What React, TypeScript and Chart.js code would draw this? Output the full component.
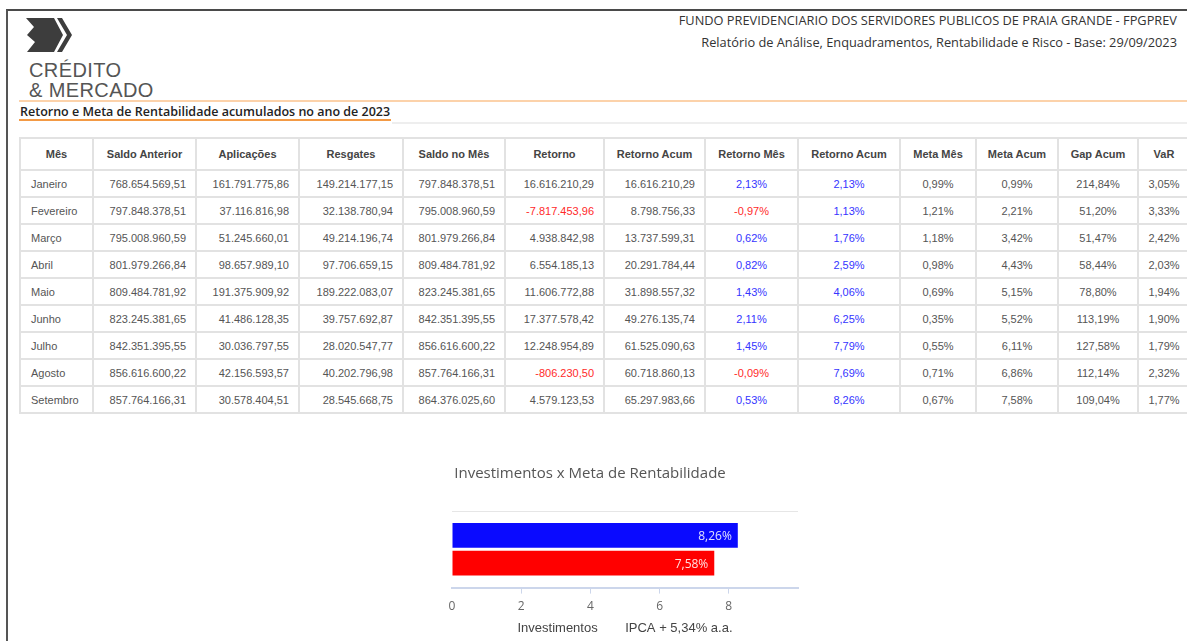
import React, { useEffect, useRef } from 'react';
import { Chart, registerables } from 'chart.js';

Chart.register(...registerables);

// ---------- table data ----------
const headers = ['Mês', 'Saldo Anterior', 'Aplicações', 'Resgates', 'Saldo no Mês', 'Retorno', 'Retorno Acum', 'Retorno Mês', 'Retorno Acum', 'Meta Mês', 'Meta Acum', 'Gap Acum', 'VaR'];
const months = ['Janeiro', 'Fevereiro', 'Março', 'Abril', 'Maio', 'Junho', 'Julho', 'Agosto', 'Setembro'];
const saldoAnterior = [768654569.51, 797848378.51, 795008960.59, 801979266.84, 809484781.92, 823245381.65, 842351395.55, 856616600.22, 857764166.31];
const aplicacoes = [161791775.86, 37116816.98, 51245660.01, 98657989.10, 191375909.92, 41486128.35, 30036797.55, 42156593.57, 30578404.51];
const resgates = [149214177.15, 32138780.94, 49214196.74, 97706659.15, 189222083.07, 39757692.87, 28020547.77, 40202796.98, 28545668.75];
const saldoMes = [797848378.51, 795008960.59, 801979266.84, 809484781.92, 823245381.65, 842351395.55, 856616600.22, 857764166.31, 864376025.60];
const retorno = [16616210.29, -7817453.96, 4938842.98, 6554185.13, 11606772.88, 17377578.42, 12248954.89, -806230.50, 4579123.53];
const retornoAcum = [16616210.29, 8798756.33, 13737599.31, 20291784.44, 31898557.32, 49276135.74, 61525090.63, 60718860.13, 65297983.66];
const retornoMesPct = [2.13, -0.97, 0.62, 0.82, 1.43, 2.11, 1.45, -0.09, 0.53];
const retornoAcumPct = [2.13, 1.13, 1.76, 2.59, 4.06, 6.25, 7.79, 7.69, 8.26];
const metaMes = [0.99, 1.21, 1.18, 0.98, 0.69, 0.35, 0.55, 0.71, 0.67];
const metaAcum = [0.99, 2.21, 3.42, 4.43, 5.15, 5.52, 6.11, 6.86, 7.58];
const gapAcum = [214.84, 51.20, 51.47, 58.44, 78.80, 113.19, 127.58, 112.14, 109.04];
const varPct = [3.05, 3.33, 2.42, 2.03, 1.94, 1.90, 1.79, 2.32, 1.77];

// ---------- chart data ----------
const chartTitle = 'Investimentos x Meta de Rentabilidade';
const categories = ['Acumulado 2023'];
const seriesNames = ['Investimentos', 'IPCA + 5,34% a.a.'];
const investimentosValues = [8.26];
const metaValues = [7.58];
const xTicksMax = 10;
const xTickStep = 2;

// ---------- layout constants ----------
const colWidths = [73, 103, 103, 104, 102, 99, 101, 93, 102, 76, 82, 80, 52];
const BLUE = '#3535ff';
const RED = '#ff2a2a';
const GRAY_TEXT = '#555';
const GRID = '#e2e2e2';

function fmt(n: number): string {
  const neg = n < 0;
  const [i, d] = Math.abs(n).toFixed(2).split('.');
  const withDots = i.replace(/\B(?=(\d{3})+(?!\d))/g, '.');
  return (neg ? '-' : '') + withDots + ',' + d;
}
const pct = (n: number) => fmt(n) + '%';

type Cell = { text: string; align: 'left' | 'right' | 'center'; color: string };

function buildRows(): Cell[][] {
  return months.map((m, r) => [
    { text: m, align: 'left', color: GRAY_TEXT },
    { text: fmt(saldoAnterior[r]), align: 'right', color: GRAY_TEXT },
    { text: fmt(aplicacoes[r]), align: 'right', color: GRAY_TEXT },
    { text: fmt(resgates[r]), align: 'right', color: GRAY_TEXT },
    { text: fmt(saldoMes[r]), align: 'right', color: GRAY_TEXT },
    { text: fmt(retorno[r]), align: 'right', color: retorno[r] < 0 ? RED : GRAY_TEXT },
    { text: fmt(retornoAcum[r]), align: 'right', color: GRAY_TEXT },
    { text: pct(retornoMesPct[r]), align: 'center', color: retornoMesPct[r] < 0 ? RED : BLUE },
    { text: pct(retornoAcumPct[r]), align: 'center', color: retornoAcumPct[r] < 0 ? RED : BLUE },
    { text: pct(metaMes[r]), align: 'center', color: GRAY_TEXT },
    { text: pct(metaAcum[r]), align: 'center', color: GRAY_TEXT },
    { text: pct(gapAcum[r]), align: 'center', color: GRAY_TEXT },
    { text: pct(varPct[r]), align: 'center', color: GRAY_TEXT },
  ] as Cell[]);
}

function DataTable() {
  const rows = buildRows();
  const cellBase: React.CSSProperties = {
    boxSizing: 'border-box',
    borderRight: `2px solid ${GRID}`,
    borderBottom: `2px solid ${GRID}`,
    display: 'flex',
    alignItems: 'center',
    whiteSpace: 'nowrap',
    overflow: 'hidden',
  };
  return (
    <div
      style={{
        position: 'absolute',
        left: 19,
        top: 137,
        display: 'grid',
        gridTemplateColumns: colWidths.map((w) => w + 'px').join(' '),
        gridTemplateRows: '32px repeat(9, 27px)',
        borderTop: `2px solid ${GRID}`,
        borderLeft: `2px solid ${GRID}`,
        fontFamily: '"Liberation Sans", Arial, sans-serif',
        fontSize: 11,
        color: GRAY_TEXT,
      }}
    >
      {headers.map((h, i) => (
        <div key={'h' + i} style={{ ...cellBase, justifyContent: 'center', fontWeight: 'bold', color: '#444' }}>
          {h}
        </div>
      ))}
      {rows.map((row, r) =>
        row.map((c, i) => (
          <div
            key={r + '-' + i}
            style={{
              ...cellBase,
              justifyContent: c.align === 'left' ? 'flex-start' : c.align === 'right' ? 'flex-end' : 'center',
              paddingLeft: c.align === 'left' ? 10 : 0,
              paddingRight: c.align === 'right' ? 9 : 0,
              color: c.color,
            }}
          >
            {c.text}
          </div>
        ))
      )}
    </div>
  );
}

function BarChart() {
  const ref = useRef<HTMLCanvasElement | null>(null);
  useEffect(() => {
    if (!ref.current) return;
    const valueLabels = {
      id: 'valueLabels',
      afterDatasetsDraw(chart: any) {
        const ctx = chart.ctx;
        ctx.save();
        ctx.font = '12px "Open Sans", sans-serif';
        ctx.textAlign = 'right';
        ctx.textBaseline = 'middle';
        ctx.fillStyle = 'rgba(255,255,255,0.88)';
        chart.data.datasets.forEach((ds: any, i: number) => {
          const meta = chart.getDatasetMeta(i);
          meta.data.forEach((el: any, j: number) => {
            ctx.fillText(pct(ds.data[j]), el.x - 6, el.y + 1);
          });
        });
        ctx.restore();
      },
    };
    const legendShift = {
      id: 'legendShift',
      afterLayout(chart: any) {
        const lg = chart.legend;
        if (!lg) return;
        const lo = chart.options.plugins.legend.labels;
        const s = (lo.boxWidth + lo.font.size / 2) / 2;
        lg.left -= s;
        lg.right -= s;
      },
    };
    const chart = new Chart(ref.current, {
      type: 'bar',
      data: {
        labels: categories,
        datasets: [
          { label: seriesNames[0], data: investimentosValues, backgroundColor: '#0a0aff', borderWidth: 0 },
          { label: seriesNames[1], data: metaValues, backgroundColor: '#ff0000', borderWidth: 0 },
        ],
      },
      options: {
        indexAxis: 'y',
        responsive: false,
        animation: false,
        layout: { padding: { left: 2, right: 2, top: 0, bottom: 5 } },
        datasets: { bar: { categoryPercentage: 0.727, barPercentage: 0.89 } },
        scales: {
          x: {
            min: 0,
            max: xTicksMax,
            ticks: {
              stepSize: xTickStep,
              color: '#666',
              padding: 6,
              font: { family: '"Open Sans", sans-serif', size: 12 },
              callback: (v: any) => (Number(v) === xTicksMax ? '' : String(v)),
            },
            grid: {
              drawOnChartArea: false,
              drawTicks: true,
              tickLength: 6,
              lineWidth: 1,
              color: (c: any) =>
                c.tick && (c.tick.value === 0 || c.tick.value === xTicksMax) ? 'rgba(0,0,0,0)' : '#ccd6eb',
            },
            border: { color: '#ccd6eb', width: 2 },
            afterFit: (s: any) => {
              s.paddingLeft = 0;
              s.paddingRight = 0;
            },
          },
          y: {
            ticks: { display: false },
            grid: { color: '#e6e6e6', drawTicks: false, lineWidth: 1 },
            border: { display: false },
            afterFit: (s: any) => {
              s.width = 70;
            },
          },
        },
        plugins: {
          title: {
            display: true,
            text: chartTitle,
            color: '#555',
            font: { family: '"Open Sans", sans-serif', size: 15, weight: 'normal' },
            padding: { top: 15, bottom: 28 },
          },
          legend: {
            position: 'bottom',
            fullSize: false,
            labels: {
              boxWidth: 19,
              boxHeight: 13,
              padding: 2,
              color: '#444',
              font: { family: '"Liberation Sans", Arial, sans-serif', size: 13 },
              generateLabels: (ch: any) =>
                ch.data.datasets.map((d: any, i: number) => ({
                  text: d.label,
                  fillStyle: 'rgba(0,0,0,0)',
                  strokeStyle: 'rgba(0,0,0,0)',
                  lineWidth: 0,
                  hidden: false,
                  datasetIndex: i,
                  fontColor: '#444',
                })),
            },
          },
          tooltip: { enabled: false },
        },
      },
      plugins: [valueLabels, legendShift],
    } as any);
    return () => chart.destroy();
  }, []);
  return (
    <div style={{ position: 'absolute', left: 380, top: 450, width: 420, height: 200 }}>
      <canvas ref={ref} width={420} height={200} />
    </div>
  );
}

function Logo() {
  return (
    <svg style={{ position: 'absolute', left: 0, top: 0 }} width={100} height={60}>
      <polygon points="26,18 54,18 63,35 54,52 27,52 35,42 27,35 34,27" fill="#3d3d3d" />
      <polygon points="57,18 62,18 72,35 62,52 57,52 67,35" fill="#3d3d3d" />
    </svg>
  );
}

export default function App() {
  return (
    <div style={{ position: 'fixed', left: 0, top: 0, width: 1187, height: 641, overflow: 'hidden', background: '#fff' }}>
      <div
        style={{
          position: 'absolute',
          left: 6,
          top: 9,
          width: 1300,
          height: 800,
          borderTop: '2px solid #4a4a4a',
          borderLeft: '2px solid #555',
        }}
      />
      <Logo />
      <div
        style={{
          position: 'absolute',
          left: 29,
          top: 60,
          fontFamily: '"Liberation Sans", Arial, sans-serif',
          fontSize: 20,
          lineHeight: '20px',
          letterSpacing: 0.4,
          color: '#555',
          whiteSpace: 'nowrap',
        }}
      >
        CRÉDITO
        <br />& MERCADO
      </div>
      <div
        style={{
          position: 'absolute',
          right: 10,
          top: 9,
          textAlign: 'right',
          fontFamily: '"Open Sans", sans-serif',
          fontSize: 12.8,
          lineHeight: '22px',
          color: '#333',
          whiteSpace: 'nowrap',
        }}
      >
        FUNDO PREVIDENCIARIO DOS SERVIDORES PUBLICOS DE PRAIA GRANDE - FPGPREV
        <br />
        Relatório de Análise, Enquadramentos, Rentabilidade e Risco - Base: 29/09/2023
      </div>
      <div style={{ position: 'absolute', left: 19, top: 100, width: 1200, height: 2, background: '#fcd2aa' }} />
      <div
        style={{
          position: 'absolute',
          left: 20,
          top: 104,
          fontFamily: '"Open Sans", sans-serif',
          fontWeight: 600,
          fontSize: 12.5,
          lineHeight: '16px',
          color: '#222',
          whiteSpace: 'nowrap',
        }}
      >
        Retorno e Meta de Rentabilidade acumulados no ano de 2023
      </div>
      <div style={{ position: 'absolute', left: 19, top: 119, width: 372, height: 2, background: '#f39a45' }} />
      <div style={{ position: 'absolute', left: 392, top: 122, width: 900, height: 2, background: '#eeeeee' }} />
      <DataTable />
      <BarChart />
    </div>
  );
}
